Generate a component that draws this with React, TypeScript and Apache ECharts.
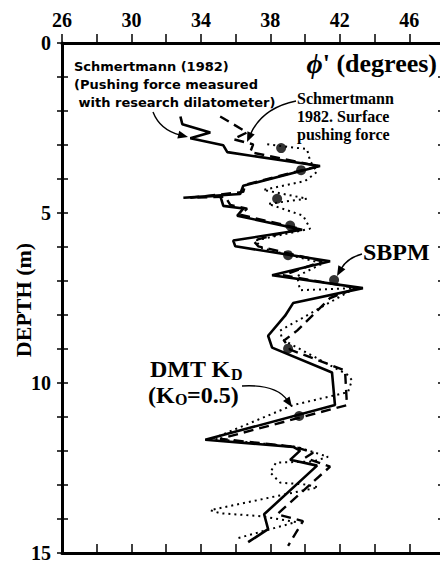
import { useEffect, useRef } from "react";
import * as echarts from "echarts";

// Schmertmann (1982) – pushing force measured with research dilatometer (solid)
const researchPhi = [32.82, 32.93, 34.54, 33.39, 35.29, 35.52, 40.86, 36.44, 36.26, 32.99, 35.11, 35.29, 36.44, 36.09, 39.83, 35.86, 35.98, 41.44, 38.10, 43.33, 39.31, 38.85, 37.87, 38.10, 41.55, 41.72, 34.25, 39.31, 39.71, 39.14, 40.69, 37.64, 37.87, 36.72];
const researchDepth = [2.16, 2.39, 2.63, 2.80, 3.01, 3.21, 3.62, 4.20, 4.44, 4.55, 4.49, 4.79, 4.87, 5.08, 5.49, 5.81, 5.98, 6.42, 6.83, 7.21, 7.65, 8.02, 8.61, 8.96, 9.69, 10.65, 11.67, 11.88, 11.99, 12.26, 12.43, 13.86, 14.30, 14.68];

// Schmertmann 1982 – surface pushing force (dashed)
const surfacePhi = [35.11, 36.66, 35.86, 37.01, 36.84, 40.75, 36.55, 36.44, 33.39, 35.40, 35.69, 36.66, 36.26, 39.71, 37.01, 37.30, 40.98, 38.74, 42.99, 41.44, 39.54, 38.79, 39.14, 42.30, 42.41, 35.11, 39.42, 40.46, 40.00, 41.44, 38.39, 39.88, 39.02];
const surfaceDepth = [2.16, 2.63, 2.83, 2.98, 3.21, 3.62, 4.17, 4.38, 4.55, 4.52, 4.76, 4.87, 5.05, 5.46, 5.81, 5.98, 6.42, 6.83, 7.21, 7.50, 8.46, 8.75, 9.02, 9.63, 10.65, 11.64, 11.88, 12.05, 12.20, 12.46, 13.86, 14.06, 14.79];

// DMT KD (K0 = 0.5) (dotted)
const dmtPhi = [37.82, 40.11, 40.29, 40.69, 40.00, 37.59, 40.11, 37.87, 39.89, 40.29, 37.13, 37.53, 41.03, 39.54, 39.71, 42.87, 38.56, 38.68, 42.42, 42.70, 42.47, 39.31, 34.66, 39.54, 41.32, 40.46, 38.33, 37.99, 38.56, 40.11, 40.75, 34.54, 35.11, 37.53, 39.48, 36.15];
const dmtDepth = [2.98, 3.12, 3.47, 3.79, 4.06, 4.32, 4.58, 4.73, 5.08, 5.46, 5.81, 6.04, 6.48, 6.86, 7.27, 7.21, 8.46, 8.72, 9.75, 9.92, 10.27, 10.65, 11.64, 11.88, 12.17, 12.31, 12.34, 12.63, 12.93, 12.99, 13.07, 13.74, 13.83, 13.92, 14.09, 14.56];

// SBPM points
const sbpmPhi = [38.62, 39.77, 38.39, 39.14, 39.02, 41.67, 39.02, 39.66];
const sbpmDepth = [3.09, 3.74, 4.58, 5.37, 6.24, 6.97, 8.99, 10.97];

const phiTickLabels = [26, 30, 34, 38, 42, 46];
const depthTickLabels = [0, 5, 10, 15];

const zip = (xs: number[], ys: number[]) => xs.map((x, i) => [x, ys[i]]);

const SERIF = "'Liberation Serif', 'Times New Roman', serif";
const SANS = "'DejaVu Sans', 'Noto Sans', sans-serif";

function arrow(sx: number, sy: number, cx: number, cy: number, ex: number, ey: number) {
  const dx = ex - cx;
  const dy = ey - cy;
  const len = Math.sqrt(dx * dx + dy * dy) || 1;
  const ux = dx / len;
  const uy = dy / len;
  const L = 10;
  const W = 4;
  const bx = ex - ux * L;
  const by = ey - uy * L;
  return [
    {
      type: "bezierCurve",
      shape: { x1: sx, y1: sy, cpx1: cx, cpy1: cy, x2: bx + ux * 2, y2: by + uy * 2 },
      style: { stroke: "#000", lineWidth: 1.4, fill: null },
      silent: true,
    },
    {
      type: "polygon",
      shape: {
        points: [
          [ex, ey],
          [bx - uy * W, by + ux * W],
          [bx + uy * W, by - ux * W],
        ],
      },
      style: { fill: "#000" },
      silent: true,
    },
  ];
}

function txt(
  x: number,
  y: number,
  text: string,
  fontSize: number,
  family: string,
  weight: string,
  vAlign = "middle",
  lineHeight?: number
) {
  return {
    type: "text",
    x,
    y,
    silent: true,
    style: {
      text,
      fontSize,
      fontFamily: family,
      fontWeight: weight,
      fill: "#000",
      align: "left",
      verticalAlign: vAlign,
      lineHeight: lineHeight ?? fontSize,
    },
  };
}

export default function App() {
  const ref = useRef<HTMLDivElement>(null);

  useEffect(() => {
    document.body.style.margin = "0";
    if (!ref.current) return;
    const chart = echarts.init(ref.current, undefined, { renderer: "svg" });

    const xBase = {
      type: "value",
      min: 26,
      max: 48,
      interval: 2,
      splitLine: { show: false },
    };
    const yBase = {
      type: "value",
      min: 0,
      max: 15,
      interval: 1,
      inverse: true,
      splitLine: { show: false },
    };

    const option: any = {
      animation: false,
      backgroundColor: "#fff",
      grid: { left: 62, top: 43, right: 4, bottom: 6, containLabel: false },
      xAxis: [
        {
          ...xBase,
          position: "top",
          axisLine: { show: true, onZero: false, lineStyle: { color: "#000", width: 3 } },
          axisTick: { show: true, inside: false, length: 9, lineStyle: { color: "#000", width: 1.5 } },
          axisLabel: {
            show: true,
            margin: 13,
            color: "#000",
            fontFamily: SERIF,
            fontWeight: "bold",
            fontSize: 20,
            formatter: (v: number) => (phiTickLabels.includes(v) ? String(v) : ""),
          },
        },
        {
          ...xBase,
          position: "bottom",
          axisLine: { show: true, onZero: false, lineStyle: { color: "#000", width: 3 } },
          axisTick: { show: true, inside: true, length: 9, lineStyle: { color: "#000", width: 1.5 } },
          axisLabel: { show: false },
        },
      ],
      yAxis: [
        {
          ...yBase,
          position: "left",
          axisLine: { show: true, onZero: false, lineStyle: { color: "#000", width: 3 } },
          axisTick: { show: true, inside: false, length: 5, lineStyle: { color: "#000", width: 1.5 } },
          axisLabel: {
            show: true,
            margin: 11,
            color: "#000",
            fontFamily: SERIF,
            fontWeight: "bold",
            fontSize: 20,
            formatter: (v: number) => (depthTickLabels.includes(v) ? String(v) : ""),
          },
        },
        {
          ...yBase,
          position: "left",
          axisLine: { show: false, onZero: false },
          axisTick: { show: true, inside: true, length: 6, lineStyle: { color: "#000", width: 1.5 } },
          axisLabel: { show: false },
        },
        {
          ...yBase,
          position: "right",
          axisLine: { show: true, onZero: false, lineStyle: { color: "#000", width: 3 } },
          axisTick: { show: true, inside: true, length: 6, lineStyle: { color: "#000", width: 1.5 } },
          axisLabel: { show: false },
        },
      ],
      series: [
        {
          name: "Schmertmann (1982) research dilatometer",
          type: "line",
          xAxisIndex: 0,
          yAxisIndex: 0,
          data: zip(researchPhi, researchDepth),
          showSymbol: false,
          symbol: "none",
          lineStyle: { color: "#000", width: 2.6, type: "solid" },
          z: 3,
        },
        {
          name: "Schmertmann 1982 surface pushing force",
          type: "line",
          xAxisIndex: 0,
          yAxisIndex: 0,
          data: zip(surfacePhi, surfaceDepth),
          showSymbol: false,
          symbol: "none",
          lineStyle: { color: "#000", width: 2.4, type: [10, 6] },
          z: 3,
        },
        {
          name: "DMT KD (K0=0.5)",
          type: "line",
          xAxisIndex: 0,
          yAxisIndex: 0,
          data: zip(dmtPhi, dmtDepth),
          showSymbol: false,
          symbol: "none",
          lineStyle: { color: "#000", width: 2, type: [2, 4] },
          z: 3,
        },
        {
          name: "SBPM",
          type: "scatter",
          xAxisIndex: 0,
          yAxisIndex: 0,
          data: zip(sbpmPhi, sbpmDepth),
          symbol: "circle",
          symbolSize: 10,
          itemStyle: { color: "#000" },
          z: 4,
        },
      ],
      graphic: [
        {
          type: "text",
          x: 23,
          y: 300,
          rotation: Math.PI / 2,
          silent: true,
          style: {
            text: "DEPTH (m)",
            fontSize: 22,
            fontFamily: SERIF,
            fontWeight: "bold",
            fill: "#000",
            align: "center",
            verticalAlign: "middle",
          },
        },
        {
          type: "text",
          x: 437,
          y: 63,
          silent: true,
          style: {
            text: "{p|ϕ}' (degrees)",
            fontSize: 26,
            fontFamily: SERIF,
            fontWeight: "bold",
            fill: "#000",
            align: "right",
            verticalAlign: "middle",
            rich: {
              p: { fontSize: 28, fontFamily: SERIF, fontWeight: "bold", fontStyle: "italic", fill: "#000" },
            },
          },
        },
        txt(74, 57, "Schmertmann (1982)\n(Pushing force measured\n with research dilatometer)", 13, SANS, "bold", "top", 18),
        txt(297, 89, "Schmertmann\n1982. Surface\npushing force", 16, SERIF, "bold", "top", 18),
        txt(363, 252, "SBPM", 24, SERIF, "bold"),
        txt(150, 369, "DMT K", 24, SERIF, "bold"),
        txt(231, 374, "D", 16, SERIF, "bold"),
        txt(148, 395, "(K", 24, SERIF, "bold"),
        txt(175, 399, "O", 16, SERIF, "bold"),
        txt(187, 395, "=0.5)", 24, SERIF, "bold"),
        ...arrow(153, 112, 160, 130, 188, 137),
        ...arrow(296, 101, 262, 108, 247, 142),
        ...arrow(362, 254, 347, 258, 337, 276),
        ...arrow(242, 386, 276, 384, 292, 407),
      ],
    };

    chart.setOption(option);
    return () => chart.dispose();
  }, []);

  return (
    <div style={{ width: 440, height: 563, overflow: "hidden", position: "relative" }}>
      <div ref={ref} style={{ width: 448, height: 563 }} />
    </div>
  );
}
